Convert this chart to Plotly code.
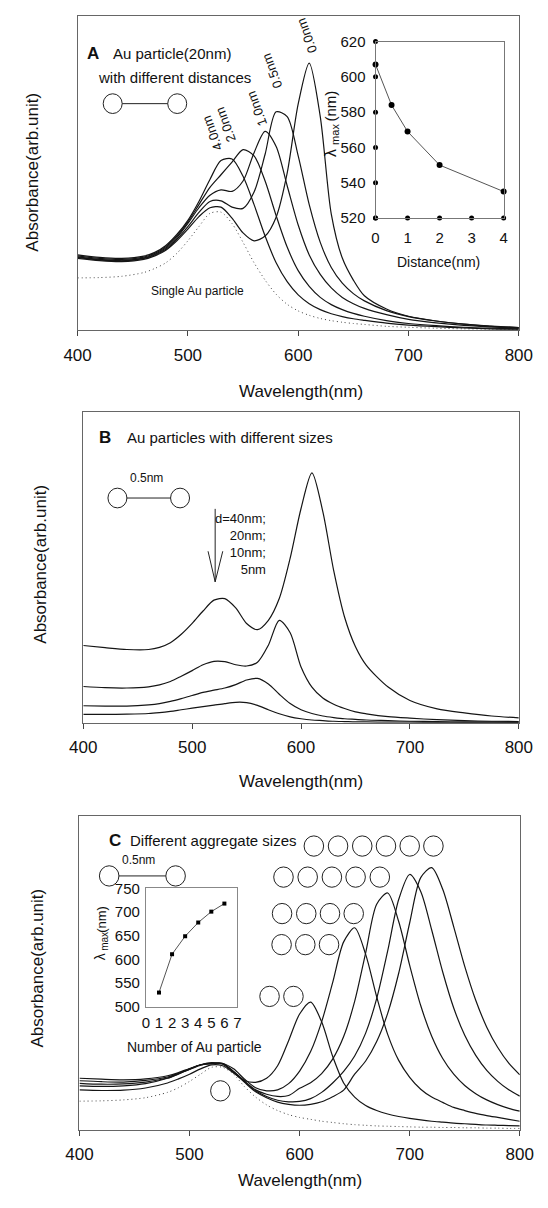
import plotly.graph_objects as go

W, H = 548, 1208
FONT = "Liberation Sans, Arial, sans-serif"


def px(x):
    return x / W


def py(y):
    return 1 - y / H


# ---------------- Panel A: pair of 20 nm Au particles, different gaps ----------------
wl_a = [400, 420, 440, 460, 470, 480, 490, 500, 510, 520, 530, 540, 550, 560, 570,
        580, 590, 600, 610, 620, 630, 640, 650, 660, 680, 700, 725, 750, 775, 800]
a_single = [.167, .168, .172, .184, .197, .215, .245, .285, .33, .372, .376, .34, .28, .215, .16,
            .115, .083, .062, .048, .038, .031, .026, .022, .019, .013, .01, .007, .005, .004, .003]
a_gap40 = [.240, .232, .229, .236, .248, .27, .305, .35, .41, .48, .54, .545, .49, .40, .30,
           .215, .155, .113, .085, .066, .053, .044, .037, .032, .023, .017, .012, .008, .005, .004]
a_gap20 = [.237, .229, .226, .233, .245, .266, .30, .345, .40, .455, .495, .535, .575, .555, .475,
           .365, .265, .19, .14, .105, .082, .066, .054, .045, .031, .022, .015, .01, .007, .005]
a_gap10 = [.234, .226, .223, .23, .242, .262, .295, .34, .39, .43, .447, .442, .475, .565, .633,
           .585, .46, .335, .24, .178, .135, .105, .085, .07, .05, .035, .024, .016, .011, .007]
a_gap05 = [.232, .224, .221, .229, .24, .258, .29, .33, .375, .41, .412, .392, .388, .44, .56,
           .695, .68, .555, .40, .28, .20, .15, .117, .094, .063, .044, .03, .02, .014, .009]
a_gap00 = [.229, .222, .219, .226, .237, .255, .285, .322, .362, .39, .392, .357, .31, .285, .30,
           .36, .50, .72, .85, .68, .37, .23, .16, .11, .068, .045, .03, .02, .013, .009]
a_gap_labels = ["4.0nm", "2.0nm", "1.0nm", "0.5nm", "0.0nm"]

# inset A
dist_nm = [0, 0.5, 1, 2, 4]
lmax_dist = [607, 584, 569, 550, 535]
inset_a_xticks = [0, 1, 2, 3, 4]
inset_a_yticks = [520, 540, 560, 580, 600, 620]

# ---------------- Panel B: different particle sizes (gap 0.5 nm) ----------------
wl_b = [400, 420, 440, 460, 470, 480, 490, 500, 510, 520, 530, 540, 550, 560, 570,
        580, 590, 600, 610, 620, 630, 640, 650, 660, 680, 700, 725, 750, 775, 800]
b_d40 = [.249, .242, .236, .236, .243, .258, .285, .32, .36, .395, .40, .37, .32, .30, .33,
         .40, .53, .69, .805, .68, .49, .34, .245, .185, .115, .072, .045, .032, .022, .016]
b_d20 = [.117, .113, .112, .116, .122, .133, .15, .168, .187, .198, .197, .187, .183, .195, .25,
         .33, .29, .18, .115, .08, .06, .046, .035, .029, .02, .015, .01, .007, .005, .004]
b_d10 = [.055, .054, .054, .058, .062, .069, .078, .088, .098, .105, .112, .123, .138, .143, .125,
         .092, .062, .042, .03, .022, .017, .013, .011, .009, .007, .005, .004, .003, .003, .002]
b_d5 = [.027, .027, .028, .03, .033, .037, .042, .047, .052, .057, .062, .066, .065, .056, .042,
        .029, .019, .013, .009, .007, .005, .004, .003, .003, .002, .002, .001, .001, .001, .001]
b_size_labels = ["d=40nm;", "20nm;", "10nm;", "5nm"]

# ---------------- Panel C: aggregates of 1..6 particles ----------------
wl_c = [400, 420, 440, 460, 480, 490, 500, 510, 520, 530, 540, 550, 560, 570, 580, 590, 600,
        610, 620, 630, 640, 650, 660, 670, 680, 690, 700, 710, 720, 730, 740, 750, 760, 770,
        780, 790, 800]
c_n1 = [.092, .093, .096, .103, .12, .135, .155, .178, .2, .2, .178, .138, .105, .08, .062, .049, .04,
        .034, .028, .024, .02, .017, .015, .013, .012, .011, .01, .009, .009, .008, .008, .007, .007, .006,
        .006, .005, .005]
c_n2 = [.128, .126, .127, .134, .15, .163, .178, .195, .208, .205, .182, .158, .152, .165, .205, .285, .37,
        .408, .345, .235, .15, .105, .078, .062, .051, .043, .037, .032, .028, .025, .022, .02, .018, .016,
        .015, .014, .013]
c_n3 = [.141, .139, .141, .148, .165, .179, .194, .208, .212, .212, .195, .162, .135, .125, .128, .148, .188,
        .25, .345, .47, .6, .645, .56, .425, .305, .222, .168, .13, .105, .088, .072, .062, .053, .046,
        .04, .034, .028]
c_n4 = [.149, .146, .147, .153, .166, .179, .193, .207, .213, .212, .187, .156, .128, .114, .107, .11, .133,
        .151, .18, .226, .298, .41, .565, .72, .756, .665, .525, .397, .299, .228, .178, .142, .116, .096,
        .081, .069, .06]
c_n5 = [.157, .154, .153, .158, .169, .181, .195, .208, .212, .213, .186, .154, .125, .107, .095, .09, .091,
        .1, .12, .15, .187, .236, .309, .419, .571, .735, .815, .761, .638, .504, .389, .302, .238, .19,
        .155, .128, .108]
c_n6 = [.165, .162, .16, .163, .173, .183, .196, .208, .215, .21, .184, .152, .122, .103, .089, .082, .079,
        .082, .09, .106, .127, .178, .22, .282, .372, .5, .661, .805, .837, .768, .648, .522, .414, .328,
        .263, .213, .176]

# inset C
n_particles = [1, 2, 3, 4, 5, 6]
lmax_n = [530, 611, 649, 678, 701, 718]

wl_ticks = [400, 500, 600, 700, 800]

fig = go.Figure()

CURVE = dict(color="#151515", width=1.2, shape="spline", smoothing=0.8)
DOT = dict(color="#444444", width=1, dash="1px,3px", shape="spline", smoothing=0.8)

# panel A traces
fig.add_trace(go.Scatter(x=wl_a, y=a_single, mode="lines", line=DOT, xaxis="x", yaxis="y"))
for ys in [a_gap40, a_gap20, a_gap10, a_gap05, a_gap00]:
    fig.add_trace(go.Scatter(x=wl_a, y=ys, mode="lines", line=CURVE, xaxis="x", yaxis="y"))
# inset A tick dots (centred on the axis lines)
fig.add_trace(go.Scatter(x=[inset_a_xticks[0]] * len(inset_a_yticks), y=inset_a_yticks, mode="markers",
                         marker=dict(color="black", size=5), xaxis="x2", yaxis="y2", cliponaxis=False))
fig.add_trace(go.Scatter(x=inset_a_xticks, y=[inset_a_yticks[0]] * len(inset_a_xticks), mode="markers",
                         marker=dict(color="black", size=5), xaxis="x2", yaxis="y2", cliponaxis=False))
fig.add_trace(go.Scatter(x=dist_nm, y=lmax_dist, mode="lines+markers",
                         line=dict(color="#555", width=1),
                         marker=dict(color="black", size=6),
                         xaxis="x2", yaxis="y2", cliponaxis=False))

# panel B traces
for ys in [b_d40, b_d20, b_d10, b_d5]:
    fig.add_trace(go.Scatter(x=wl_b, y=ys, mode="lines", line=CURVE, xaxis="x3", yaxis="y3"))

# panel C traces
fig.add_trace(go.Scatter(x=wl_c, y=c_n1, mode="lines", line=DOT, xaxis="x4", yaxis="y4"))
for ys in [c_n2, c_n3, c_n4, c_n5, c_n6]:
    fig.add_trace(go.Scatter(x=wl_c, y=ys, mode="lines", line=CURVE, xaxis="x4", yaxis="y4"))
fig.add_trace(go.Scatter(x=n_particles, y=lmax_n, mode="lines+markers",
                         line=dict(color="#555", width=1),
                         marker=dict(color="black", size=4, symbol="square"),
                         xaxis="x5", yaxis="y5", cliponaxis=False))

main_x = dict(range=[400, 800], tickvals=wl_ticks, ticks="outside", ticklen=5, tickcolor="#444",
              showline=True, mirror=True, linecolor="#666", linewidth=1, showgrid=False,
              zeroline=False, tickfont=dict(size=17, color="#111"), ticklabelstandoff=4)
main_y = dict(range=[0, 1], showticklabels=False, ticks="", showline=True, mirror=True,
              linecolor="#666", linewidth=1, showgrid=False, zeroline=False)

fig.update_layout(
    width=W, height=H, margin=dict(l=0, r=0, t=0, b=0),
    paper_bgcolor="white", plot_bgcolor="white", showlegend=False,
    font=dict(family=FONT, color="#111", size=14),
    xaxis=dict(main_x, domain=[px(67), px(532)], anchor="y"),
    yaxis=dict(main_y, domain=[py(326), py(7)], anchor="x"),
    xaxis2=dict(domain=[px(381), px(516)], anchor="y2", range=[0, 4], tickvals=inset_a_xticks,
                ticks="", showline=True, mirror=True, linecolor="#777", showgrid=False, zeroline=False,
                tickfont=dict(size=15, color="#111"), ticklabelstandoff=6),
    yaxis2=dict(domain=[py(212), py(33)], anchor="x2", range=[520, 620], tickvals=inset_a_yticks,
                ticks="", showline=True, mirror=True, linecolor="#777", showgrid=False, zeroline=False,
                tickfont=dict(size=15, color="#111"), ticklabelstandoff=6),
    xaxis3=dict(main_x, domain=[px(73), px(532)], anchor="y3"),
    yaxis3=dict(main_y, domain=[py(724), py(409)], anchor="x3"),
    xaxis4=dict(main_x, domain=[px(69), px(533)], anchor="y4"),
    yaxis4=dict(main_y, domain=[py(1137), py(819)], anchor="x4"),
    xaxis5=dict(domain=[px(139), px(235.5)], anchor="y5", range=[0, 7], dtick=1, ticks="",
                showline=True, mirror=True, linecolor="#888", showgrid=False, zeroline=False,
                tickfont=dict(size=15, color="#111"), ticklabelstandoff=2),
    yaxis5=dict(domain=[py(1012), py(892)], anchor="x5", range=[500, 750], dtick=50, ticks="",
                showline=True, mirror=True, linecolor="#888", showgrid=False, zeroline=False,
                tickfont=dict(size=15, color="#111"), ticklabelstandoff=2),
)

ann = []


def text(x, y, s, size=14, xanchor="center", yanchor="middle", bold=False, angle=0, color="#111",
         align="center"):
    ann.append(dict(x=px(x), y=py(y), xref="paper", yref="paper", text=(f"<b>{s}</b>" if bold else s),
                    showarrow=False, xanchor=xanchor, yanchor=yanchor, textangle=angle, align=align,
                    font=dict(size=size, family=FONT, color=color)))


# axis titles
for yc, xt in [(388, 302), (784, 302), (1188, 301)]:
    text(xt, yc, "Wavelength(nm)", size=17)
for xc, yc in [(20, 165), (27, 563), (24.5, 973)]:
    text(xc, yc, "Absorbance(arb.unit)", size=17, angle=-90)

# panel A texts
text(75, 45, "A", size=17, bold=True, xanchor="left")
text(102, 45, "Au particle(20nm)", size=15, xanchor="left")
text(86, 69, "with different distances", size=15, xanchor="left")
text(193, 286, "Single Au particle", size=12)
for lbl, (lx, ly) in zip(a_gap_labels, [(208.7, 126), (222.7, 117), (256, 101), (271.7, 63), (308.7, 27)]):
    text(lx, ly, lbl, size=13, angle=-110)
text(447.6, 257, "Distance(nm)", size=14)
# inset A y title: lambda + subscript "max" + "(nm)", reading upwards
text(334, 146, "λ", size=16, angle=-90)
text(339, 127, "max", size=11, angle=-90)
text(334, 98, "(nm)", size=15, angle=-90)

# panel B texts
text(87, 435, "B", size=17, bold=True, xanchor="left")
text(117, 435, "Au particles with different sizes", size=15, xanchor="left")
text(140, 476, "0.5nm", size=12)
text(268, 543, "<br>".join(b_size_labels), size=13, xanchor="right", align="right")

# panel C texts
text(98, 843, "C", size=17, bold=True, xanchor="left")
text(120, 843, "Different aggregate sizes", size=15, xanchor="left")
text(131, 863, "0.5nm", size=12)
text(190, 1053, "Number of Au particle", size=14)
# inset C y title
text(91.5, 961, "λ", size=14, angle=-90)
text(95.5, 945.5, "max", size=10, angle=-90)
text(91.5, 923, "(nm)", size=13, angle=-90)

shapes = []
LN = dict(color="#222", width=1)


def circ(cx, cy, r=10.3):
    shapes.append(dict(type="circle", xref="paper", yref="paper", x0=px(cx - r), x1=px(cx + r),
                       y0=py(cy + r), y1=py(cy - r), line=LN, fillcolor="rgba(0,0,0,0)"))


def seg(x0, y0, x1, y1):
    shapes.append(dict(type="line", xref="paper", yref="paper", x0=px(x0), y0=py(y0),
                       x1=px(x1), y1=py(y1), line=LN))


# dumbbells
circ(104, 96, 10); circ(172, 96, 10); seg(114, 96, 162, 96)
circ(109, 496, 10); circ(175, 496, 10); seg(119, 496, 165, 496)
circ(100.3, 879.3, 10.3); circ(170.3, 879.3, 10.3); seg(110.6, 879.3, 160, 879.3)

# arrow in B
seg(212, 507, 212, 581)
seg(204.5, 550, 212, 581)
seg(220, 550, 212, 581)

# aggregates in C
for cx in [316, 341.5, 367, 392, 417, 442]:
    circ(cx, 849)
for cx in [284, 309.5, 335, 360, 385.5]:
    circ(cx, 880.5)
for cx in [282.5, 308, 333, 358]:
    circ(cx, 917.5)
for cx in [282, 307, 332]:
    circ(cx, 949)
for cx in [269.3, 294.5]:
    circ(cx, 1001.5)
circ(217.5, 1097.3)

fig.update_layout(annotations=ann, shapes=shapes)
fig.write_html("out.html")
